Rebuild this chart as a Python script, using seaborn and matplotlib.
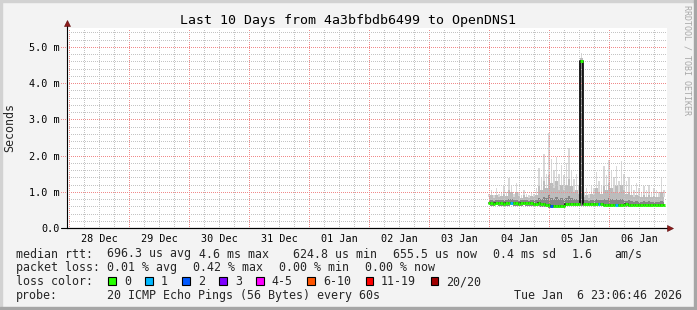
import matplotlib
matplotlib.use("Agg")
import matplotlib.pyplot as plt
import seaborn as sns
import numpy as np
import pandas as pd
from matplotlib.patches import Rectangle

# ---------------- data ----------------
title = "Last 10 Days from 4a3bfbdb6499 to OpenDNS1"
day_labels = ['28 Dec', '29 Dec', '30 Dec', '31 Dec', '01 Jan',
              '02 Jan', '03 Jan', '04 Jan', '05 Jan', '06 Jan']
y_ticks = [0, 1, 2, 3, 4, 5]
y_tick_labels = ['0.0', '1.0 m', '2.0 m', '3.0 m', '4.0 m', '5.0 m']

# hours since 04 Jan 00:00
hours = list(range(71))
median_ms = [0.68, 0.68, 0.67, 0.68, 0.68, 0.68, 0.67, 0.68, 0.68, 0.69, 0.68, 0.68, 0.67, 0.68,
             0.68, 0.68, 0.68, 0.68, 0.67, 0.67, 0.68, 0.66,
             0.65, 0.64, 0.63,
             0.62, 0.61, 0.61, 0.62, 0.61, 0.62,
             0.66, 0.66, 0.67, 0.66, 0.66, 0.67,
             4.60,
             0.67, 0.67, 0.66, 0.67, 0.66, 0.67, 0.66, 0.66,
             0.64, 0.63, 0.64, 0.64, 0.63, 0.64, 0.64, 0.63, 0.64, 0.65, 0.64, 0.64, 0.64,
             0.63, 0.64, 0.64, 0.64, 0.64, 0.63, 0.64, 0.64, 0.64, 0.64, 0.64, 0.64]
smoke_lo = [0.63, 0.62, 0.62, 0.63, 0.62, 0.62, 0.61, 0.62, 0.62, 0.63, 0.62, 0.62, 0.61, 0.62,
            0.63, 0.62, 0.62, 0.62, 0.61, 0.61, 0.61, 0.59,
            0.58, 0.57, 0.56,
            0.55, 0.55, 0.54, 0.55, 0.55, 0.56,
            0.60, 0.60, 0.61, 0.60, 0.60, 0.61,
            0.62,
            0.62, 0.61, 0.61, 0.62, 0.61, 0.61, 0.60, 0.60,
            0.58, 0.57, 0.58, 0.58, 0.57, 0.58, 0.58, 0.57, 0.58, 0.59, 0.58, 0.58, 0.58,
            0.58, 0.58, 0.59, 0.58, 0.58, 0.58, 0.58, 0.59, 0.58, 0.58, 0.58, 0.59]
smoke_dark = [0.76, 0.78, 0.75, 0.77, 0.76, 0.76, 0.78, 0.76, 0.80, 0.79, 0.76, 0.78, 0.75, 0.76,
              0.77, 0.76, 0.75, 0.76, 0.76, 0.78, 0.82, 0.80,
              0.86, 0.82, 0.90,
              0.84, 0.80, 0.86, 0.80, 0.83, 0.80,
              0.84, 0.88, 0.82, 0.79, 0.80, 0.77,
              4.60,
              0.76, 0.77, 0.75, 0.78, 0.77, 0.80, 0.78, 0.77,
              0.80, 0.78, 0.82, 0.79, 0.77, 0.80, 0.76, 0.80, 0.78, 0.75, 0.76, 0.75, 0.73,
              0.74, 0.73, 0.73, 0.74, 0.73, 0.74, 0.73, 0.73, 0.72, 0.73, 0.75, 0.73]
smoke_mid = [0.86, 0.90, 0.84, 0.92, 0.86, 0.88, 0.94, 0.87, 1.05, 0.98, 0.86, 0.98, 0.87, 0.84,
             0.90, 0.86, 0.84, 0.88, 0.86, 0.92, 1.15, 1.05,
             1.30, 1.10, 1.45,
             1.25, 1.10, 1.30, 1.05, 1.20, 1.05,
             1.20, 1.35, 1.15, 1.00, 1.05, 0.95,
             4.70,
             0.86, 0.90, 0.84, 0.95, 0.90, 1.10, 0.98, 0.95,
             1.15, 1.05, 1.25, 1.10, 0.98, 1.15, 0.96, 1.20, 1.05, 0.95, 1.00, 0.92, 0.86,
             0.92, 0.88, 0.85, 0.90, 0.86, 0.92, 0.85, 0.88, 0.86, 0.85, 1.00, 0.86]
smoke_max = [0.95, 1.05, 0.90, 1.10, 0.95, 1.00, 1.15, 1.00, 1.38, 1.20, 0.95, 1.25, 1.00, 0.90,
             1.05, 0.95, 0.90, 1.00, 0.95, 1.10, 1.65, 1.40,
             2.05, 1.50, 2.62,
             1.90, 1.60, 1.95, 1.50, 1.75, 1.45,
             1.80, 2.20, 1.60, 1.35, 1.50, 1.20,
             4.84,
             1.00, 1.10, 0.95, 1.20, 1.10, 1.55, 1.30, 1.20,
             1.70, 1.45, 1.88, 1.60, 1.40, 1.70, 1.30, 1.85, 1.50, 1.30, 1.40, 1.20, 1.05,
             1.25, 1.10, 1.00, 1.15, 1.05, 1.20, 1.00, 1.10, 1.05, 1.00, 1.40, 1.05]
loss = [0] * 71
loss[9] = 1
loss[25] = 2
loss[44] = 1
loss[51] = 1

loss_levels = ['0', '1', '2', '3', '4-5', '6-10', '11-19', '20/20']
loss_upper = [0, 1, 2, 3, 5, 10, 19, 20]
loss_colors = ['#26ff00', '#00b8ff', '#0059ff', '#7e00ff', '#ff00ff', '#ff5500', '#ff0000', '#a00000']

rtt_label = 'median rtt:'
rtt_items = ['696.3 us avg', '4.6 ms max', '624.8 us min', '655.5 us now', '0.4 ms sd', '1.6', 'am/s']
loss_label = 'packet loss:'
loss_items = ['0.01 % avg', '0.42 % max', '0.00 % min', '0.00 % now']
color_label = 'loss color:'
probe_label = 'probe:'
probe_text = '20 ICMP Echo Pings (56 Bytes) every 60s'
stamp_text = 'Tue Jan  6 23:06:46 2026'
watermark = 'RRDTOOL / TOBI OETIKER'

# ---------------- layout ----------------
W, H = 697, 310
rtt_x = [107.3, 199.3, 293.3, 393.3, 493.3, 571.7, 614.0]
loss_x = [107.3, 193.3, 279.3, 365.0]
row_base = [257.5, 271.4, 285.2, 299.1]

sns.set_theme(style="white")
plt.rcParams['font.family'] = ['DejaVu Sans Mono']

fig = plt.figure(figsize=(W / 100, H / 100), dpi=100, facecolor='#f3f3f3')


def fx(px):
    return px / W


def fy(py):
    return 1 - py / H


ax = fig.add_axes([fx(67), fy(228), 600 / W, 200 / H])
ax.set_facecolor('white')

x_start = -(53 + 14 / 60) / (60 * 24)
x_end = 9 + (23 + 6 / 60 + 46 / 3600) / 24
ax.set_xlim(x_start, x_end)
ax.set_ylim(0, 5.52)

df = pd.DataFrame({'t': [7 + h / 24 for h in hours], 'median': median_ms,
                   'lo': smoke_lo, 'dark': smoke_dark, 'mid': smoke_mid,
                   'max': smoke_max, 'loss': loss})
half = 1 / 48

# smoke
ax.bar(df['t'], df['max'] - df['mid'], bottom=df['mid'], width=0.6 / 24,
       color='#d8d8d8', lw=0, zorder=1)
ax.fill_between(df['t'], df['dark'], df['mid'], step='mid', color='#bcbcbc', lw=0, zorder=1)
ax.fill_between(df['t'], df['lo'], df['dark'], step='mid', color='#858585', lw=0, zorder=1)

# grid (1px dotted, crisp)
dot = (0, (0.6, 1.4))
major_c = '#f08a8a'
minor_c = '#c4c4c4'
for k in range(0, 41):
    xv = k * 0.25
    if x_start < xv < x_end:
        ax.axvline(xv, color=major_c if k % 4 == 0 else minor_c, lw=0.72, ls=dot,
                   zorder=2, antialiased=False)
for j in range(1, 28):
    yv = j * 0.2
    if yv < 5.52:
        if j % 5 == 0:
            ax.axhline(yv, xmin=-6 / 600, xmax=1, color=major_c, lw=0.72, ls=dot,
                       zorder=2, clip_on=False, antialiased=False)
        else:
            ax.axhline(yv, color=minor_c, lw=0.72, ls=dot, zorder=2, antialiased=False)

# median line
sns.lineplot(data=df, x='t', y='median', drawstyle='steps-mid', color='black', lw=1.2,
             estimator=None, legend=False, ax=ax, zorder=3)


def level_of(n):
    for i, u in enumerate(loss_upper):
        if n <= u:
            return i
    return len(loss_upper) - 1


seg_colors = [loss_colors[level_of(n)] for n in df['loss']]
ax.hlines(df['median'], df['t'] - half, df['t'] + half, colors=seg_colors, lw=2.1, zorder=4)

# axes
for s in ['top', 'right']:
    ax.spines[s].set_visible(False)
for s in ['left', 'bottom']:
    ax.spines[s].set_color('black')
    ax.spines[s].set_linewidth(0.8)
    ax.spines[s].set_zorder(5)
ax.axhline(0, xmin=-6 / 600, xmax=1.003, color='black', lw=0.8, clip_on=False, zorder=5)
ax.plot([0, 0], [1, 1.02], transform=ax.transAxes, color='black', lw=0.8, clip_on=False, zorder=5)
ax.plot([0], [1.025], transform=ax.transAxes, marker='^', ms=5, color='#8e1c1c',
        mec='#5a0a0a', mew=0.4, clip_on=False, zorder=6)
ax.plot([1.0055], [0], transform=ax.transAxes, marker='>', ms=5, color='#8e1c1c',
        mec='#5a0a0a', mew=0.4, clip_on=False, zorder=6)

ax.set_yticks(y_ticks, y_tick_labels)
ax.set_xticks([i + 0.5 for i in range(len(day_labels))], day_labels)
ax.tick_params(axis='y', length=0, pad=5, labelsize=7.3, colors='black')
ax.tick_params(axis='x', length=0, pad=4.5, labelsize=7.3, colors='black')
ax.set_xlabel('')
ax.set_ylabel('')
ax.grid(False)

# texts
fig.text(fx(347.5), fy(24), title, ha='center', va='baseline', fontsize=9.5, color='black')
fig.text(fx(10), fy(128), 'Seconds', rotation=90, ha='center', va='center', fontsize=8.4)
fig.text(fx(686.7), fy(5), watermark, rotation=270, ha='center', va='top', fontsize=6,
         color='#a8a8a8')

fs = 8.4
fig.text(fx(16), fy(row_base[0]), rtt_label, ha='left', va='baseline', fontsize=fs)
for s, xp in zip(rtt_items, rtt_x):
    fig.text(fx(xp), fy(row_base[0]), s, ha='left', va='baseline', fontsize=fs)
fig.text(fx(16), fy(row_base[1]), loss_label, ha='left', va='baseline', fontsize=fs)
for s, xp in zip(loss_items, loss_x):
    fig.text(fx(xp), fy(row_base[1]), s, ha='left', va='baseline', fontsize=fs)
fig.text(fx(16), fy(row_base[2]), color_label, ha='left', va='baseline', fontsize=fs)
char_w = 7.02
xp = 108.3
for lab, col in zip(loss_levels, loss_colors):
    fig.patches.append(Rectangle((fx(xp), fy(row_base[2] - 0.5)), 7.7 / W, 7.7 / H,
                                 transform=fig.transFigure, facecolor=col,
                                 edgecolor='black', lw=0.8, figure=fig))
    fig.text(fx(xp + 15.5), fy(row_base[2]), lab, ha='left', va='baseline', fontsize=fs)
    xp += 15.5 + char_w * len(lab) + 14.5
fig.text(fx(16), fy(row_base[3]), probe_label, ha='left', va='baseline', fontsize=fs)
fig.text(fx(107.3), fy(row_base[3]), probe_text, ha='left', va='baseline', fontsize=fs)
fig.text(fx(681.5), fy(row_base[3]), stamp_text, ha='right', va='baseline', fontsize=fs)

# frame
fig.patches.append(Rectangle((0, 0), fx(2), 1, transform=fig.transFigure, color='#d2d2d2', figure=fig))
fig.patches.append(Rectangle((0, fy(2)), 1, 2 / H, transform=fig.transFigure, color='#d2d2d2', figure=fig))
fig.patches.append(Rectangle((fx(694), 0), 3 / W, 1, transform=fig.transFigure, color='#a6a6a6', figure=fig))
fig.patches.append(Rectangle((0, 0), 1, 3 / H, transform=fig.transFigure, color='#a6a6a6', figure=fig))

fig.savefig('out.png', dpi=100, facecolor=fig.get_facecolor())
